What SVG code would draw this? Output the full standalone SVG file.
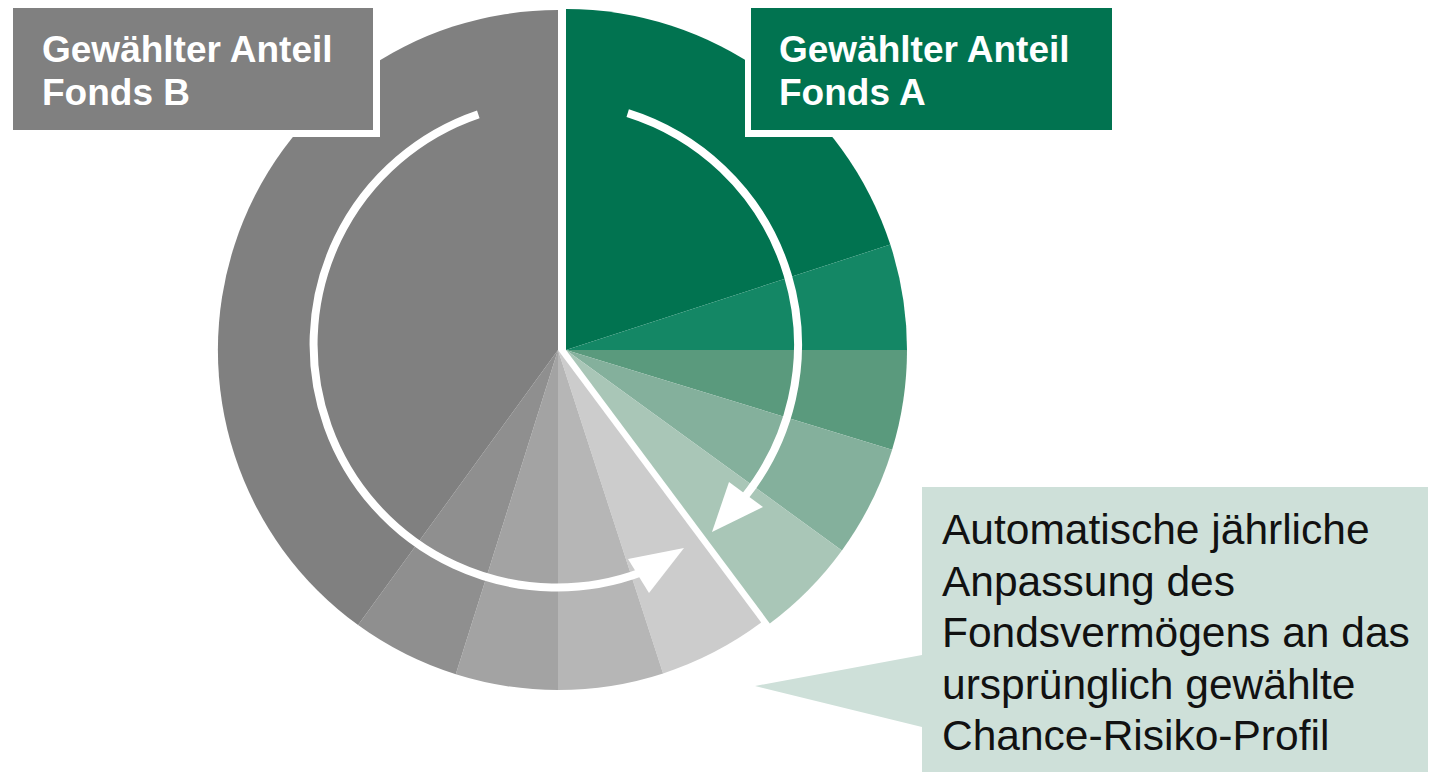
<svg xmlns="http://www.w3.org/2000/svg" width="1430" height="772" viewBox="0 0 1430 772">
  <style>
    .lbl { font-family: "Liberation Sans", Arial, sans-serif; font-weight: bold; font-size: 37px; fill: #ffffff; }
    .call { font-family: "Liberation Sans", Arial, sans-serif; font-size: 42.5px; fill: #111111; }
    .arc { fill: none; stroke: #ffffff; stroke-width: 8; stroke-linecap: butt; }
    .head { fill: #ffffff; }
  </style>
  <rect x="0" y="0" width="1430" height="772" fill="#ffffff"/>

  <g id="pie-fonds-b">
    <path d="M558,350 L761.2,622.6 A340,340 0 0 1 663.1,673.4 Z" fill="#cccccc"/>
    <path d="M558,350 L663.1,673.4 A340,340 0 0 1 558,690 Z" fill="#b6b6b6"/>
    <path d="M558,350 L558,690 A340,340 0 0 1 455.8,674.3 Z" fill="#a3a3a3"/>
    <path d="M558,350 L455.8,674.3 A340,340 0 0 1 358.1,625.1 Z" fill="#8f8f8f"/>
    <path d="M558,350 L358.1,625.1 A340,340 0 0 1 558,10 Z" fill="#808080"/>
  </g>

  <g id="pie-fonds-a">
    <path d="M566,350 L566,9 A341,341 0 0 1 890.3,244.6 Z" fill="#017350"/>
    <path d="M566,350 L890.3,244.6 A341,341 0 0 1 907,350 Z" fill="#148765"/>
    <path d="M566,350 L907,350 A341,341 0 0 1 892.1,449.7 Z" fill="#5a9a7d"/>
    <path d="M566,350 L892.1,449.7 A341,341 0 0 1 841.9,550.4 Z" fill="#84b09c"/>
    <path d="M566,350 L841.9,550.4 A341,341 0 0 1 769.8,623.4 Z" fill="#a9c6b7"/>
  </g>

  <g id="connectors">
    <path class="arc" d="M627.7,113.1 A243,243 0 0 1 743.8,497.9"/>
    <polygon class="head" points="729,482 763,507 712,532"/>
    <path class="arc" d="M478.3,114.4 A243,243 0 1 0 642.1,571.9"/>
    <polygon class="head" points="628,559 649,593 684,548"/>
  </g>

  <g id="label-fonds-b">
    <rect x="7" y="2" width="373" height="135" fill="#ffffff"/>
    <rect x="13" y="8" width="360" height="122" fill="#808080"/>
    <text class="lbl" x="42" y="62">Gewählter Anteil</text>
    <text class="lbl" x="42" y="105">Fonds B</text>
  </g>

  <g id="label-fonds-a">
    <rect x="745" y="2" width="373" height="135" fill="#ffffff"/>
    <rect x="751" y="8" width="361" height="122" fill="#017350"/>
    <text class="lbl" x="779" y="62">Gewählter Anteil</text>
    <text class="lbl" x="779" y="105">Fonds A</text>
  </g>

  <g id="callout">
    <path d="M922,487 L1428,487 L1428,772 L922,772 L922,727 L755,686 L922,655 Z" fill="#cee0d9"/>
    <text class="call" x="942" y="544">Automatische jährliche</text>
    <text class="call" x="942" y="595.5">Anpassung des</text>
    <text class="call" x="942" y="647">Fondsvermögens an das</text>
    <text class="call" x="942" y="698.5">ursprünglich gewählte</text>
    <text class="call" x="942" y="750">Chance-Risiko-Profil</text>
  </g>
</svg>
